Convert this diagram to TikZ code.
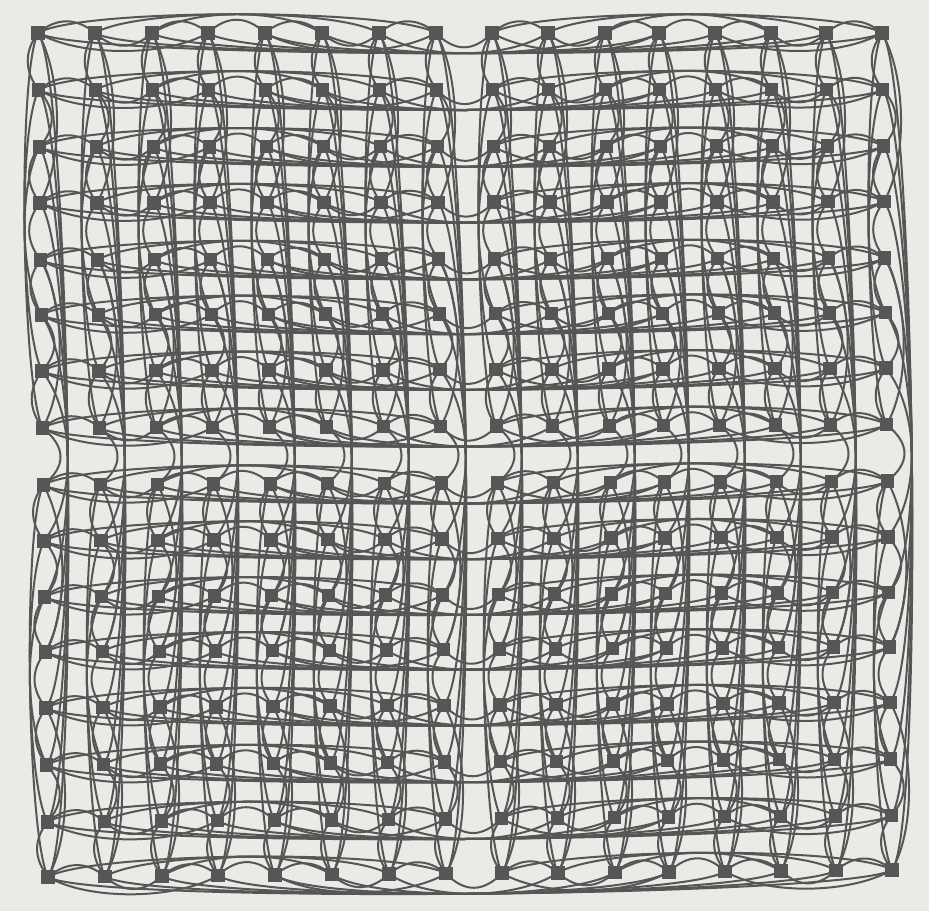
\documentclass[tikz,border=0pt]{standalone}
\usetikzlibrary{calc}
\definecolor{paper}{HTML}{EBEAE6}
\definecolor{ink}{HTML}{565656}
\pgfdeclarelayer{back}
\pgfdeclarelayer{edges}
\pgfsetlayers{back,edges,main}
\begin{document}
\begin{tikzpicture}[x=1pt,y=1pt,
  nd/.style={rectangle, fill=ink, draw=none, minimum size=13.5pt, inner sep=0pt},
  edge/.style={draw=ink, line width=2pt}]
\useasboundingbox (0,0) rectangle (929,911);
\begin{pgfonlayer}{back}
\fill[paper] (0,0) rectangle (929,911);
\end{pgfonlayer}
\def\X{{38,95,152,208,265,322,379,436,492,548,605,659,715,771,826,882}}
\def\Y{{33,90,147,203,260,315,371,428,485,541,597,652,708,765,822,877}}
\def\RD{{22,-24,25,-27}}
\def\CD{{-20,24,-21,33}}
\foreach \r in {0,...,15}{
  \foreach \c in {0,...,15}{
    \pgfmathsetmacro\px{\X[\c]+0.667*\r}
    \pgfmathsetmacro\py{911-\Y[\r]+0.47*\c*\r/15}
    \node[nd] (n-\r-\c) at (\px,\py) {};
  }
}
\def\pairs{0/1/0,2/3/0,4/5/0,6/7/0,8/9/0,10/11/0,12/13/0,14/15/0,
0/3/1,1/2/1,4/7/1,5/6/1,8/11/1,9/10/1,12/15/1,13/14/1,
0/7/2,1/6/2,2/5/2,3/4/2,8/15/2,9/14/2,10/13/2,11/12/2,
0/15/3,1/14/3,2/13/3,3/12/3,4/11/3,5/10/3,6/9/3,7/8/3}
\begin{pgfonlayer}{edges}
\foreach \a/\b/\j in \pairs {
  \pgfmathsetmacro\f{min(1,sqrt((\b-\a)/2))}
  \pgfmathsetmacro\h{min((\b-\a)*56.3/3,42)}
  \pgfmathsetmacro\rr{\RD[\j]}
  \pgfmathsetmacro\cc{\CD[\j]}
  \pgfmathsetmacro\dr{\f*\rr}
  \pgfmathsetmacro\dc{\f*\cc}
  \foreach \k in {0,...,15}{
    \draw[edge] (n-\k-\a.center) .. controls ($(n-\k-\a.center)+(\h,\dr)$) and ($(n-\k-\b.center)+(-\h,\dr)$) .. (n-\k-\b.center);
    \draw[edge] (n-\a-\k.center) .. controls ($(n-\a-\k.center)+(\dc,-\h)$) and ($(n-\b-\k.center)+(\dc,\h)$) .. (n-\b-\k.center);
  }
}
\end{pgfonlayer}
\end{tikzpicture}
\end{document}
